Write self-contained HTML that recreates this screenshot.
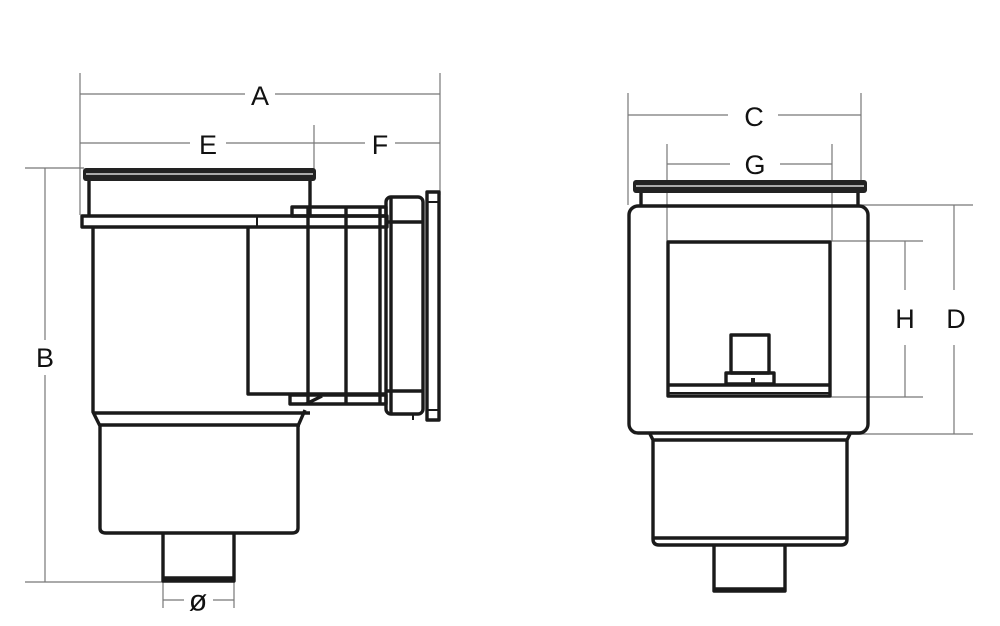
<!DOCTYPE html>
<html><head><meta charset="utf-8"><style>
html,body{margin:0;padding:0;background:#fff;width:1000px;height:626px;overflow:hidden}
svg{display:block}
text{font-family:"Liberation Sans",sans-serif;font-size:27px;fill:#111;text-anchor:middle;dominant-baseline:central}
.d{stroke:#777;stroke-width:1.2;fill:none}
.k{stroke:#1a1a1a;stroke-width:3.4;fill:none;stroke-linejoin:round}
.t{stroke:#1a1a1a;stroke-width:2;fill:none}
</style></head><body>
<svg width="1000" height="626" viewBox="0 0 1000 626">
<rect width="1000" height="626" fill="#fff"/>
<!-- LEFT dims -->
<path class="d" d="M80 73V215M440 73V195M80 94H245M275 94H440M80 143H190M226 143H365M395 143H440M314 125V170"/>
<text x="260" y="96">A</text><text x="208" y="145">E</text><text x="380" y="145">F</text>
<path class="d" d="M25 168H84M45 168V340M45 375V582M25 582H163"/>
<text x="45" y="358">B</text>
<path class="d" d="M163 582V608M234 582V608M163 600H184M213 600H234"/>
<text x="198" y="601" style="font-size:30px">ø</text>
<!-- LEFT drawing -->
<rect x="83" y="168" width="233" height="13" rx="3" fill="#222"/>
<line x1="86" y1="174" x2="313" y2="174" stroke="#aaa" stroke-width="2"/>
<path class="k" d="M89 181V216M310 181V216"/>
<rect x="82" y="216" width="305" height="11" class="k"/>
<line x1="257" y1="216" x2="257" y2="227" class="t"/>
<path class="k" d="M93 228V412L100 426V528Q100 533 106 533H292Q298 533 298 528V426L305 410"/>
<path class="k" d="M93 413H310M100 425H300"/>
<path class="k" d="M163 533V581H234V533"/>
<line x1="164" y1="578" x2="233" y2="578" class="k"/>
<!-- side pipe -->
<path class="k" d="M248 228V394H386"/>
<rect x="292" y="207" width="94" height="9" class="k"/>
<rect x="290" y="395" width="96" height="9" class="k"/>
<path class="k" d="M308 207V404M346 207V404M380 207V404"/>
<path class="k" d="M306 404L322 396"/>
<!-- flange -->
<rect x="386" y="197" width="37" height="217" rx="5" class="k"/>
<path class="k" d="M391 197V414M386 222H423M386 391H423"/>
<rect x="427" y="192" width="12" height="228" class="k"/>
<path class="t" d="M427 202H439M427 410H439"/>
<path class="t" d="M413 414V420"/>
<!-- RIGHT dims -->
<path class="d" d="M628 93V205M861 93V193M628 115H728M778 115H861M667 144V241M832 144V241M667 164H730M780 164H832"/>
<text x="754" y="117">C</text><text x="755" y="165">G</text>
<path class="d" d="M860 205H973M848 434H973M954 205V290M954 345V434M831 241H923M831 397H923M905 241V290M905 345V397"/>
<text x="956" y="319">D</text><text x="905" y="319">H</text>
<!-- RIGHT drawing -->
<rect x="633" y="180" width="234" height="13" rx="3" fill="#222"/>
<line x1="636" y1="186" x2="864" y2="186" stroke="#aaa" stroke-width="2"/>
<path class="k" d="M641 193V206M858 193V206"/>
<rect x="629" y="206" width="239" height="227" rx="9" class="k"/>
<rect x="668" y="242" width="162" height="154" class="k"/>
<path class="k" d="M668 385H830"/>
<rect x="670" y="389" width="158" height="5" fill="#fff"/>
<line x1="668" y1="393" x2="830" y2="393" class="t"/>
<rect x="731" y="335" width="38" height="38" class="k"/>
<rect x="726" y="373" width="48" height="11" class="k"/>
<rect x="751" y="378" width="4" height="6" fill="#222"/>
<path class="k" d="M650 434L653 440V539Q653 545 659 545H841Q847 545 847 539V440L850 434"/>
<path class="k" d="M653 440H847M653 538H847"/>
<path class="k" d="M714 546V591H785V546"/>
<line x1="715" y1="589" x2="784" y2="589" class="k"/>
</svg>
</body></html>
